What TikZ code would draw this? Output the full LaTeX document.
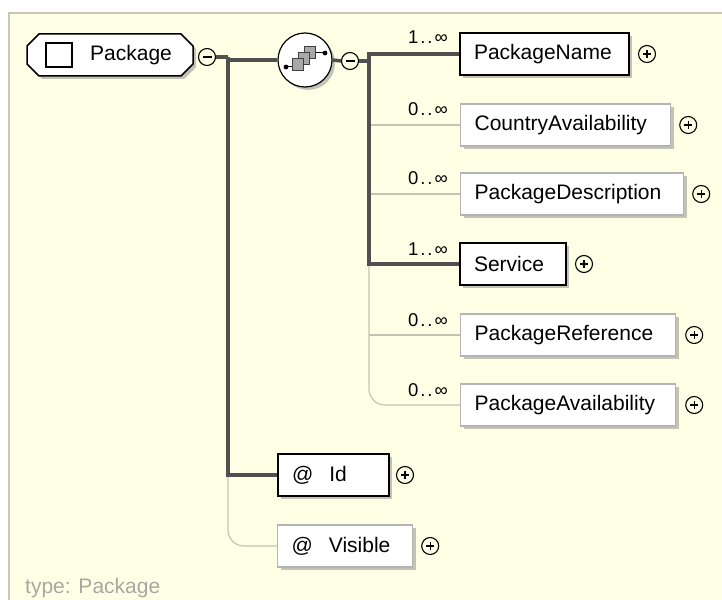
\documentclass[tikz,border=0pt]{standalone}
\usepackage{fontspec}
\setmainfont{Liberation Sans}
\usetikzlibrary{shadows}
\definecolor{bgy}{HTML}{FFFFE6}
\definecolor{bgline}{HTML}{C8C8B8}
\definecolor{thickc}{HTML}{505050}
\definecolor{thinc}{HTML}{C4C4B4}
\definecolor{boxgray}{HTML}{B4B4B4}
\definecolor{shadowc}{HTML}{9C9C94}
\definecolor{sqgray}{HTML}{A8A8A8}
\definecolor{typec}{HTML}{A8A8A0}
\tikzset{
  lbl/.style={font=\fontsize{21}{25}\selectfont},
  shad/.style={drop shadow={shadow xshift=3pt, shadow yshift=-3pt, fill=shadowc, opacity=0.6}},
  elem/.style={lbl, draw=boxgray, line width=1.2pt, fill=white, shad, minimum height=42pt,
    anchor=west, text width=#1, align=left, inner xsep=14pt, inner ysep=0pt},
  elemreq/.style={elem=#1, draw=black, line width=2pt},
  card/.style={font=\fontsize{18.5}{20}\selectfont, anchor=base east, inner sep=0pt},
  pm/.style={circle, draw=black, line width=1.1pt, minimum size=17pt, inner sep=0pt},
  minusc/.style={pm, path picture={\draw[line width=1.1pt]
      ([xshift=-4.5pt]path picture bounding box.center) -- ([xshift=4.5pt]path picture bounding box.center);}},
  plusc/.style={pm, path picture={\draw[line width=1.1pt]
      ([xshift=-4pt]path picture bounding box.center) -- ([xshift=4pt]path picture bounding box.center)
      ([yshift=-4pt]path picture bounding box.center) -- ([yshift=4pt]path picture bounding box.center);}},
  thickln/.style={draw=thickc, line width=3.5pt},
  thinln/.style={draw=thinc, line width=1.2pt},
}
\begin{document}
\begin{tikzpicture}[x=1pt,y=-1pt]
\useasboundingbox (0,0) rectangle (722,599);
\fill[white] (0,0) rectangle (722,599);
\draw[bgline, line width=2pt, fill=bgy] (9,13) rectangle (740,620);

% root element outline
\fill[shadowc, opacity=0.6, shift={(3,3)}] (39,34) -- (181,34) -- (193,46) -- (193,64) -- (181,76) -- (39,76) -- (27,64) -- (27,46) -- cycle;
\draw[black, line width=1.5pt, fill=white] (39,34) -- (181,34) -- (193,46) -- (193,64) -- (181,76) -- (39,76) -- (27,64) -- (27,46) -- cycle;
\draw[black, line width=1.5pt] (46,43) rectangle (72,67);
\node[lbl, anchor=west, inner sep=0pt] (pkg) at (90,55) {Package};

\node[minusc] (m1) at (207,57) {};
\coordinate (j1) at (228,57);

% sequence compositor
\node[circle, draw=black, line width=1.2pt, fill=white, minimum size=54pt, inner sep=0pt, shad] (seq) at (305,60) {};
\begin{scope}[line width=1pt]
  \draw[black] (286,67) -- (294,67);
  \fill[black] (286,67) circle (2.4);
  \draw[black] (312,53) -- (325,53);
  \fill[black] (325,53) circle (2.4);
  \draw[draw=black!75, fill=sqgray] (304,47) rectangle (315,59);
  \draw[draw=black!75, fill=sqgray] (298,53) rectangle (309,65);
  \draw[draw=black!75, fill=sqgray] (292,59) rectangle (303,71);
\end{scope}
\node[minusc] (m2) at (350,61) {};
\coordinate (j2) at (369,61);

% children of sequence
\node[elemreq=141pt] (pn) at (459,54) {PackageName};
\node[elem=182pt] (ca) at (460,125) {CountryAvailability};
\node[elem=195pt] (pd) at (460,194) {PackageDescription};
\node[elemreq=78pt] (svc) at (459,264) {Service};
\node[elem=187pt] (pr) at (460,335) {PackageReference};
\node[elem=187pt] (pa) at (460,405) {PackageAvailability};

\node[plusc] (pnp) at ([xshift=17pt]pn.east) {};
\node[plusc] (cap) at ([xshift=17pt]ca.east) {};
\node[plusc] (pdp) at ([xshift=17pt]pd.east) {};
\node[plusc] (svcp) at ([xshift=17pt]svc.east) {};
\node[plusc] (prp) at ([xshift=18pt]pr.east) {};
\node[plusc] (pap) at ([xshift=18pt]pa.east) {};

\node[card] (c1) at (448,44) {1\kern2pt.\kern2pt.\kern2pt∞};
\node[card] (c2) at (448,115) {0\kern2pt.\kern2pt.\kern2pt∞};
\node[card] (c3) at (448,184) {0\kern2pt.\kern2pt.\kern2pt∞};
\node[card] (c4) at (448,255) {1\kern2pt.\kern2pt.\kern2pt∞};
\node[card] (c5) at (448,326) {0\kern2pt.\kern2pt.\kern2pt∞};
\node[card] (c6) at (448,396) {0\kern2pt.\kern2pt.\kern2pt∞};

% attributes
\node[elemreq=83pt] (id) at (277,475) {@\hspace{16pt}Id};
\node[elem=107pt] (vis) at (277,546) {@\hspace{16pt}Visible};
\node[plusc] (idp) at ([xshift=15pt]id.east) {};
\node[plusc] (visp) at ([xshift=17pt]vis.east) {};

% connectors (thin first)
\draw[thinln] (ca.west) -- (ca.west -| j2);
\draw[thinln] (pd.west) -- (pd.west -| j2);
\draw[thinln] (pr.west) -- (pr.west -| j2);
\draw[thinln, rounded corners=16pt] (svc.west -| j2) |- (pa.west);
\draw[thinln, rounded corners=16pt] (id.west -| j1) |- (vis.west);

\draw[thickln] (m1.east) -- (j1);
\draw[thickln] (j1) |- (id.west);
\draw[thickln] (seq.west -| j1) -- (seq.west);
\draw[thickln] (seq.east) -- (m2.west);
\draw[thickln] (m2.east) -- (j2);
\draw[thickln] (pn.west) -| (svc.west -| j2) -- (svc.west);

\node[lbl, text=typec, anchor=base west, inner sep=0pt] (typ) at (25,593) {type: Package};
\end{tikzpicture}
\end{document}
